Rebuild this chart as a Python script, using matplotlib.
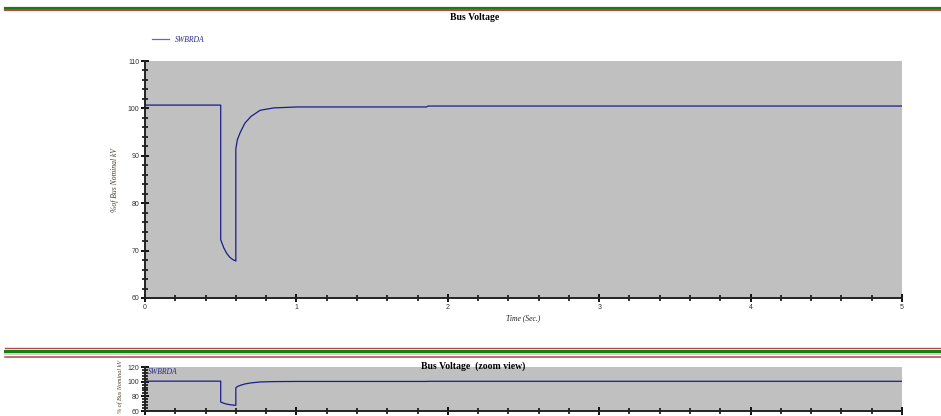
import matplotlib
matplotlib.use("Agg")
import matplotlib.pyplot as plt
from matplotlib.lines import Line2D
from matplotlib.ticker import MultipleLocator

# bus voltage trace of SWBRDA (% of nominal kV) vs time in seconds
time_s = [0.0, 0.50, 0.50, 0.52, 0.54, 0.56, 0.58, 0.60, 0.60, 0.61, 0.63,
          0.66, 0.70, 0.76, 0.85, 1.00, 1.86, 1.87, 5.0]
volt_pct = [100.7, 100.7, 72.3, 70.6, 69.4, 68.6, 68.1, 67.8, 91.5, 93.4, 95.0,
            96.9, 98.3, 99.6, 100.1, 100.3, 100.3, 100.5, 100.5]
bus_name = "SWBRDA"

plt.rcParams["font.family"] = "Liberation Sans"

W, H = 941, 416
fig = plt.figure(figsize=(W / 100, H / 100), dpi=100)
fig.patch.set_facecolor("white")


def box(x0, y0, x1, y1):
    # pixel box -> figure fraction rect
    return [x0 / W, 1 - y1 / H, (x1 - x0) / W, (y1 - y0) / H]


def hline(y, color, lw, x0=5, x1=941):
    fig.add_artist(Line2D([x0 / W, x1 / W], [1 - y / H, 1 - y / H],
                          transform=fig.transFigure, color=color, lw=lw))


line_col = "#1c1c8a"
tick_col = "#333333"
serif = "Liberation Serif"

# page separator lines
hline(8.2, "#138013", 1.6)
hline(10.4, "#b04848", 1.5)
hline(348.2, "#b04848", 1.0)
hline(350.6, "#138013", 2.2)
hline(354.2, "#c8c8c8", 1.2)
hline(357.4, "#b04848", 1.1)


def style_axes(ax):
    ax.set_facecolor("#c0c0c0")
    for s in ("top", "right"):
        ax.spines[s].set_visible(False)
    for s in ("left", "bottom"):
        ax.spines[s].set_color("#222222")
        ax.spines[s].set_linewidth(1.4)
    ax.set_xlim(0, 5)
    ax.xaxis.set_major_locator(MultipleLocator(1))
    ax.xaxis.set_minor_locator(MultipleLocator(0.2))
    ax.tick_params(which="major", direction="inout", length=6, width=1.4,
                   color="#111111", labelsize=5, labelcolor=tick_col, pad=1)
    ax.tick_params(which="minor", direction="inout", length=4, width=1.2,
                   color="#111111")


# main plot
ax = fig.add_axes(box(145, 61, 902, 298))
ax.plot(time_s, volt_pct, color=line_col, lw=0.9, label=bus_name)
ax.set_ylim(60, 110)
ax.yaxis.set_major_locator(MultipleLocator(10))
ax.yaxis.set_minor_locator(MultipleLocator(2))
style_axes(ax)

fig.text(475 / W, 1 - 18 / H, "Bus Voltage", ha="center", va="center",
         family=serif, weight="bold", fontsize=7)
fig.text(115 / W, 1 - 180 / H, "%of Bus Nominal kV", rotation=90,
         ha="center", va="center", family=serif, style="italic",
         fontsize=5.5, color="#4a3a28")
fig.text(523 / W, 1 - 318 / H, "Time (Sec.)", ha="center", va="center",
         family=serif, style="italic", fontsize=5.5, color="#222222")
ax.legend(loc="center left", bbox_to_anchor=(145 / W, 1 - 40 / H),
          bbox_transform=fig.transFigure, frameon=False, handlelength=2.2,
          handletextpad=0.8,
          prop={"family": serif, "style": "italic", "size": 5.5},
          labelcolor="#2a2a8a")
ax.get_legend().get_lines()[0].set_color("#6a6ab4")

# zoom view strip
az = fig.add_axes(box(145, 367, 902, 411))
az.plot(time_s, volt_pct, color=line_col, lw=0.9)
az.set_ylim(60, 120)
az.yaxis.set_major_locator(MultipleLocator(20))
az.yaxis.set_minor_locator(MultipleLocator(4))
style_axes(az)
az.tick_params(axis="x", labelbottom=False)
az.text(0.004, 0.97, bus_name, transform=az.transAxes, ha="left", va="top",
        family=serif, style="italic", fontsize=5.5, color="#2a2a8a")
fig.text(473 / W, 1 - 366 / H, "Bus Voltage  (zoom view)", ha="center",
         va="center", family=serif, weight="bold", fontsize=7)
fig.text(120 / W, 1 - 386 / H, "% of Bus Nominal kV", rotation=90,
         ha="center", va="center", family=serif, style="italic",
         fontsize=4.4, color="#4a3a28")

fig.savefig("out.png", dpi=100)
